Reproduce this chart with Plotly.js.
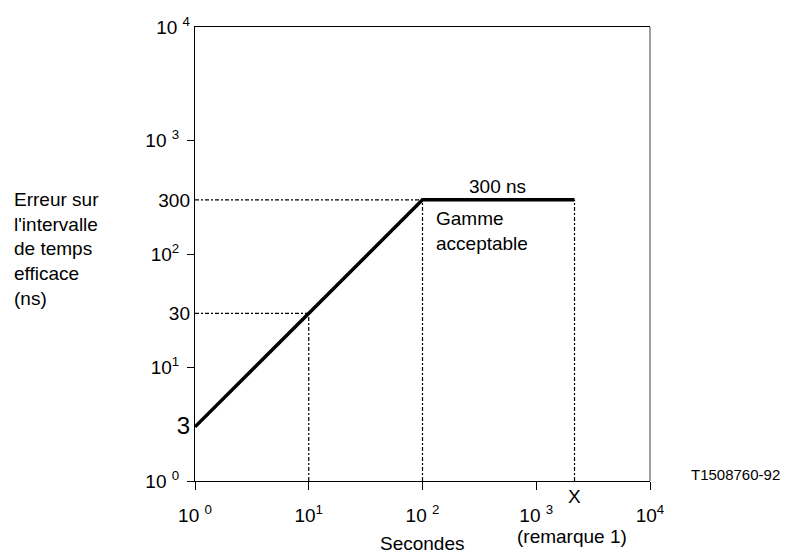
<!DOCTYPE html>
<html>
<head>
<meta charset="utf-8">
<script src="https://cdn.plot.ly/plotly-3.0.1.min.js"></script>
<style>html,body{margin:0;padding:0;background:#fff;}#chart{width:795px;height:554px;}</style>
</head>
<body>
<div id="chart"></div>
<script>
// Data
const seconds = [1, 10, 100, 2170];       // last point = X (remarque 1)
const errorNs = [3, 30, 300, 300];

const xTickVals = [1, 10, 100, 1000, 10000];
const xTickText = ['10 <sup>0</sup>', '10<sup>1</sup>', '10 <sup>2</sup>', '10 <sup>3</sup>', '10<sup>4</sup>'];
const yTickVals = [1, 10, 100, 1000];
const yTickText = ['10 <sup>0</sup>', '10<sup>1</sup>', '10<sup>2</sup>', '10 <sup>3</sup>'];
const yMarkVals = [3, 30, 300, 10000];
const yMarkText = ["<span style='font-size:24px'>3</span>", '30', '300', '10 <sup>4</sup>'];

const FONT = 'Liberation Sans, Arial, sans-serif';
const FS = 19;
const xMin = 1, yMin = 1;

const traces = [];
const guide = {color: '#000', width: 1.2, dash: '4px,2px,2px,2px'};
// horizontal guides to the y axis
[1, 2].forEach(i => traces.push({
  x: [xMin, seconds[i]], y: [errorNs[i], errorNs[i]], mode: 'lines',
  line: guide, hoverinfo: 'skip', showlegend: false
}));
// vertical guides to the x axis
[1, 2, 3].forEach(i => traces.push({
  x: [seconds[i], seconds[i]], y: [yMin, errorNs[i]], mode: 'lines',
  line: guide, hoverinfo: 'skip', showlegend: false
}));
// main curve
traces.push({
  x: seconds, y: errorNs, mode: 'lines',
  line: {color: '#000', width: 3.5}, showlegend: false
});
// invisible trace for the second y axis labels
traces.push({x: [1], y: [1], yaxis: 'y2', mode: 'markers', marker: {opacity: 0}, hoverinfo: 'skip', showlegend: false});

const plateauY = Math.log10(errorNs[2]);
const plateauMidX = (Math.log10(seconds[2]) + Math.log10(seconds[3])) / 2;

const layout = {
  width: 795, height: 554,
  margin: {l: 195, r: 145, t: 27, b: 73},
  paper_bgcolor: '#fff', plot_bgcolor: '#fff',
  font: {family: FONT, size: FS, color: '#000'},
  showlegend: false,
  xaxis: {
    type: 'log', range: [0, 4], tickvals: xTickVals, ticktext: xTickText,
    ticks: 'outside', ticklen: 8, tickcolor: '#000', tickwidth: 1,
    showline: true, linecolor: '#000', linewidth: 1, mirror: true,
    showgrid: false, zeroline: false, ticklabelstandoff: 9,
    tickfont: {family: FONT, size: FS, color: '#000'}
  },
  yaxis: {
    type: 'log', range: [0, 4], tickvals: yTickVals, ticktext: yTickText,
    ticks: 'outside', ticklen: 7, tickcolor: '#000', tickwidth: 1,
    showline: true, linecolor: '#000', linewidth: 1,
    showgrid: false, zeroline: false, ticklabelstandoff: 4,
    tickfont: {family: FONT, size: FS, color: '#000'}
  },
  yaxis2: {
    type: 'log', range: [0, 4], overlaying: 'y', side: 'left',
    tickvals: yMarkVals, ticktext: yMarkText, ticks: '',
    showline: false, showgrid: false, zeroline: false, ticklabelstandoff: 4,
    tickfont: {family: FONT, size: FS, color: '#000'}
  },
  shapes: [
    {type: 'line', xref: 'paper', yref: 'paper', x0: 1, x1: 1, y0: 0, y1: 1,
     line: {color: '#808080', width: 1.5}}
  ],
  annotations: [
    {text: "Erreur sur<br>l'intervalle<br>de temps<br>efficace<br>(ns)", xref: 'paper', yref: 'paper',
     x: (12 - 195) / 455, y: 0.511, xanchor: 'left', yanchor: 'middle', align: 'left', showarrow: false,
     font: {family: FONT, size: FS}},
    {text: '300 ns', xref: 'x', yref: 'y', x: plateauMidX - 0.01, y: plateauY, yshift: 1,
     xanchor: 'center', yanchor: 'bottom', showarrow: false, font: {family: FONT, size: FS}},
    {text: 'Gamme<br>acceptable', xref: 'x', yref: 'y', x: Math.log10(seconds[2]) + 0.1, y: plateauY, yshift: -6,
     xanchor: 'left', yanchor: 'top', align: 'left', showarrow: false, font: {family: FONT, size: FS}},
    {text: 'X', xref: 'paper', yref: 'paper', x: 0.833, y: -0.035,
     xanchor: 'center', yanchor: 'middle', showarrow: false, font: {family: FONT, size: FS}},
    {text: '(remarque 1)', xref: 'paper', yref: 'paper', x: 0.8286, y: -0.123,
     xanchor: 'center', yanchor: 'middle', showarrow: false, font: {family: FONT, size: FS}},
    {text: 'Secondes', xref: 'paper', yref: 'paper', x: 0.501, y: -0.137,
     xanchor: 'center', yanchor: 'middle', showarrow: false, font: {family: FONT, size: FS}},
    {text: 'T1508760-92', xref: 'paper', yref: 'paper', x: 1.187, y: 0.015,
     xanchor: 'center', yanchor: 'middle', showarrow: false, font: {family: FONT, size: 15}}
  ]
};

Plotly.newPlot('chart', traces, layout, {displayModeBar: false, staticPlot: true});
</script>
</body>
</html>
